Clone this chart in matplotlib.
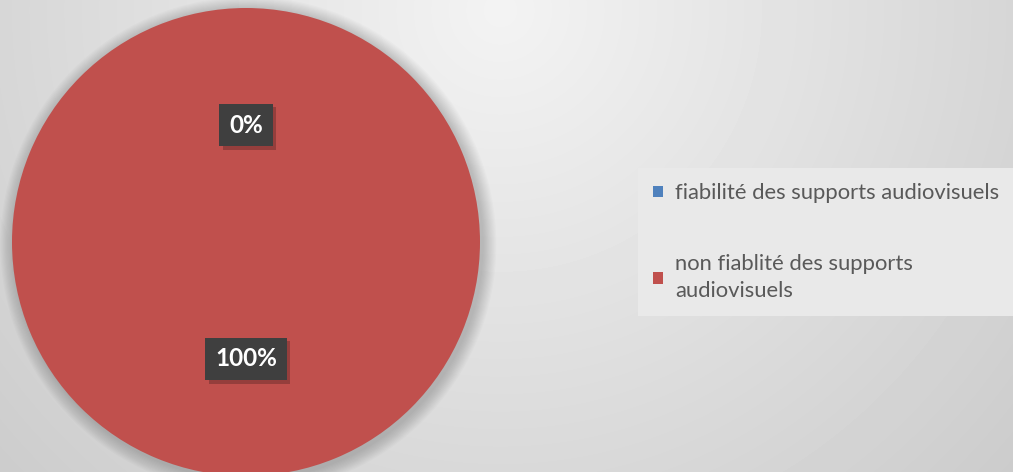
import numpy as np
import matplotlib
matplotlib.use("Agg")
import matplotlib.pyplot as plt
import matplotlib.patheffects as pe

# data
labels = ["fiabilité des supports audiovisuels",
          "non fiablité des supports\naudiovisuels"]
values = [0, 100]
colors = ["#4F81BD", "#C0504D"]

W, H = 1013, 472
fig = plt.figure(figsize=(W / 100, H / 100), dpi=100)

# radial grey background, lightest near top middle
bg = fig.add_axes([0, 0, 1, 1], zorder=-10)
yy, xx = np.mgrid[0:H, 0:W]
d = np.hypot(xx - 500, (yy - 10) * 1.0)
shade = np.clip(243 - 0.057 * d, 195, 245) / 255.0
bg.imshow(shade, cmap="gray", vmin=0, vmax=1, extent=[0, W, H, 0], aspect="auto")
bg.set_xlim(0, W)
bg.set_ylim(H, 0)
bg.axis("off")

# pie
cx, cy, r = 246, 242, 234
ax = fig.add_axes([(cx - r) / W, (H - cy - r) / H, 2 * r / W, 2 * r / H])

wedges, texts, autotexts = ax.pie(values, colors=colors, startangle=90, counterclock=False,
                                  autopct="%1.0f%%", pctdistance=0.5, radius=1.0,
                                  wedgeprops=dict(linewidth=0),
                                  textprops=dict(color="white", fontsize=17.5,
                                                 fontweight="bold", family="Lato"))
ax.set_xlim(-1, 1)
ax.set_ylim(-1, 1)
ax.set_aspect("equal")
ax.axis("off")

# soft shadow round the pie
for k in range(12):
    ax.add_patch(plt.Circle((0.01, -0.012), 1.0 + 0.005 * (k + 1), color="#000000",
                            alpha=0.014, lw=0, zorder=0, clip_on=False))

for t in autotexts:
    t.set_zorder(5)
    t.set_bbox(dict(boxstyle="square,pad=0.4", facecolor="#3f3f3f", edgecolor="none"))
    t.get_bbox_patch().set_path_effects([
        pe.SimplePatchShadow(offset=(2.5, -2.5), shadow_rgbFace="#000000", alpha=0.22),
        pe.Normal()])

leg = fig.legend(wedges, labels, loc="upper left",
                 bbox_to_anchor=(638 / W, 1 - 317 / H, (W - 638) / W, 149 / H),
                 mode="expand", frameon=True, fancybox=False,
                 facecolor="#e9e9e9", edgecolor="none", framealpha=1,
                 handlelength=0.45, handleheight=0.45, handletextpad=0.55,
                 labelspacing=2.3, borderpad=0.7, borderaxespad=0,
                 prop=dict(family="Lato", size=15.8))
for t in leg.get_texts():
    t.set_color("#595959")
    t.set_linespacing(1.45)

fig.savefig("out.png", dpi=100)
